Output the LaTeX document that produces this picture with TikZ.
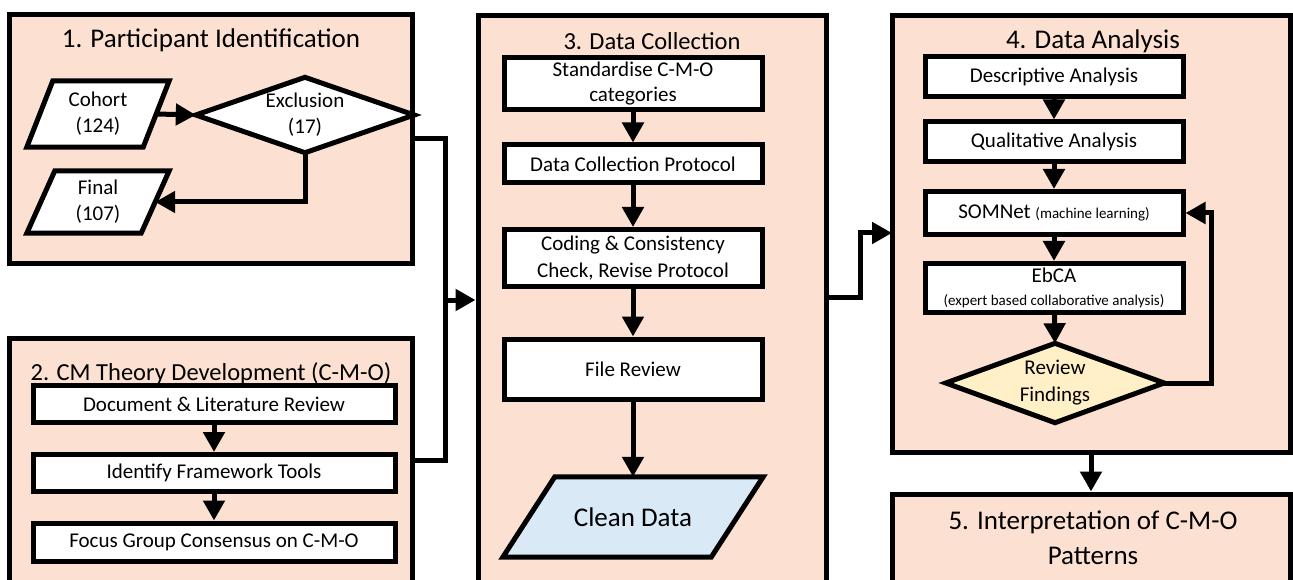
\documentclass[tikz,border=0pt]{standalone}
\usepackage{fontspec}
\setmainfont{Carlito}
\usetikzlibrary{arrows.meta,calc}
\definecolor{peach}{HTML}{FCE1D2}
\definecolor{paleblue}{HTML}{DAE9F6}
\definecolor{paleyellow}{HTML}{FFF0C8}
\pgfdeclarelayer{panels}
\pgfdeclarelayer{shapes}
\pgfsetlayers{panels,shapes,main}
\newcommand\fsz[2]{\fontsize{#1}{#2}\selectfont}
\tikzset{
  panel/.style={draw, line width=5pt, fill=peach, inner sep=0pt},
  ttl/.style={anchor=base, inner sep=0pt, font={\fsz{27}{35}}},
  ttlsm/.style={ttl, font={\fsz{24.5}{30}}},
  box/.style={draw, line width=5pt, fill=white, inner sep=0pt, align=center,
              font={\fsz{21}{26}}, minimum width=258},
  txt/.style={inner sep=0pt, align=center, font={\fsz{21}{26}}},
  outline/.style={draw, line width=5pt, line join=miter},
  conn/.style={line width=5pt},
  arr/.style={conn, -{Triangle[length=20pt,width=21pt]}},
}
\begin{document}
\begin{tikzpicture}[x=1pt,y=-1pt]
\useasboundingbox (0,0) rectangle (1293,580);
\clip (0,0) rectangle (1293,580);

% stage panels
\begin{pgfonlayer}{panels}
\node[panel, minimum width=403, minimum height=248] (p1) at (210.5,139) {};
\node[panel, minimum width=403, minimum height=262] (p2) at (210.5,469) {};
\node[panel, minimum width=348, minimum height=584] (p3) at (652,308) {};
\node[panel, minimum width=398, minimum height=436] (p4) at (1091,234) {};
\node[panel, minimum width=398, minimum height=106] (p5) at (1091,547) {};
\end{pgfonlayer}

% panel titles
\node[ttl] (t1) at (211,48) {1. Participant Identification};
\node[ttlsm] (t2) at (211,380) {2. CM Theory Development (C-M-O)};
\node[ttlsm] (t3) at (652,50) {3. Data Collection};
\node[ttl] (t4) at (1093,49) {4. Data Analysis};
\node[inner sep=0pt, align=center, font={\fsz{27}{35}}] (t5) at (1093,538)
  {5. Interpretation of C-M-O\\Patterns};

% 1. participant identification
\node[txt, minimum width=116, minimum height=66] (cohort) at (98,114) {Cohort\\(124)};
\node[txt, minimum width=218, minimum height=75] (excl) at (305,115) {Exclusion\\(17)};
\node[txt, minimum width=114, minimum height=62] (final) at (98,202) {Final\\(107)};

% 2. theory development
\node[box, minimum width=362, minimum height=37] (doc) at (214,404) {Document \& Literature Review};
\node[box, minimum width=362, minimum height=37] (tools) at (214,473) {Identify Framework Tools};
\node[box, minimum width=362, minimum height=38] (focus) at (214,542) {Focus Group Consensus on C-M-O};

% 3. data collection
\node[box, minimum height=52, font={\fsz{21}{25}}] (std) at (633,84) {Standardise C-M-O\\categories};
\node[box, minimum height=38] (dcp) at (633,164) {Data Collection Protocol};
\node[box, minimum height=57, font={\fsz{21}{27}}] (code) at (633,258) {Coding \& Consistency\\Check, Revise Protocol};
\node[box, minimum height=60] (file) at (633,369) {File Review};
\node[txt, minimum width=208, minimum height=80, font={\fsz{27}{33}}] (clean) at (633,517) {Clean Data};

% 4. data analysis
\node[box, minimum height=40] (desc) at (1054,77) {Descriptive Analysis};
\node[box, minimum height=40] (qual) at (1054,142) {Qualitative Analysis};
\node[box, minimum height=43] (som) at (1054,213) {SOMNet {\fsz{15}{18}(machine learning)}};
\node[box, minimum height=49, font={\fsz{21}{23}}] (ebca) at (1054,288)
  {EbCA\\{\fsz{15}{18}(expert based collaborative analysis)}};
\node[txt, minimum width=218, minimum height=79, font={\fsz{21}{27}}] (rev) at (1055,383) {Review\\Findings};

% parallelogram and decision outlines behind their labels
\begin{pgfonlayer}{shapes}
\draw[outline, fill=white] ([xshift=-13]cohort.south west) -- ([xshift=13]cohort.north west)
  -- ([xshift=13]cohort.north east) -- ([xshift=-13]cohort.south east) -- cycle;
\draw[outline, fill=white] ([xshift=-14]final.south west) -- ([xshift=14]final.north west)
  -- ([xshift=14]final.north east) -- ([xshift=-14]final.south east) -- cycle;
\draw[outline, fill=white] (excl.west) -- (excl.north) -- (excl.east) -- (excl.south) -- cycle;
\draw[outline, fill=paleblue] ([xshift=-26]clean.south west) -- ([xshift=26]clean.north west)
  -- ([xshift=26]clean.north east) -- ([xshift=-26]clean.south east) -- cycle;
\draw[outline, fill=paleyellow] (rev.west) -- (rev.north) -- (rev.east) -- (rev.south) -- cycle;
\end{pgfonlayer}

% flow inside stage 1
\draw[arr] (cohort.east) -- (excl.west);
\draw[arr] (excl.south) |- (final.east);

% stages 1 and 2 feed stage 3
\coordinate (jm) at (445,300);
\coordinate (b2) at (412,460);
\draw[conn] (p1.east) -| (jm) |- (b2);
\draw[arr] (jm) -- (jm -| p3.west);

% flow inside stage 2
\draw[arr] (doc) -- (tools);
\draw[arr] (tools) -- (focus);

% flow inside stage 3
\draw[arr] (std) -- (dcp);
\draw[arr] (dcp) -- (code);
\draw[arr] (code) -- (file);
\draw[arr] (file) -- (clean.north);

% stage 3 to stage 4
\coordinate (o3) at (826,297);
\coordinate (i4) at (892,233);
\draw[arr] (o3) -- ++(34,0) |- (i4);

% flow inside stage 4
\draw[arr] (desc) -- (qual);
\draw[arr] (qual) -- (som);
\draw[arr] (som) -- (ebca);
\draw[arr] (ebca) -- (rev.north);
\draw[arr] (rev.east) -- ++(47,0) |- (som.east);

% stage 4 to stage 5
\draw[arr] (p4.south) -- (p5.north);
\end{tikzpicture}
\end{document}
